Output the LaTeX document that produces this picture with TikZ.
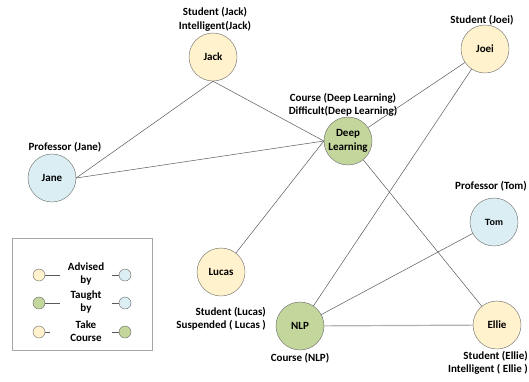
\documentclass[tikz,border=0pt]{standalone}
\usepackage{fontspec}
\setmainfont{Carlito}
\newfontfamily\arialfont{Liberation Sans}
\definecolor{stuyellow}{RGB}{255,242,204}
\definecolor{profblue}{RGB}{219,238,244}
\definecolor{coursegreen}{RGB}{195,214,155}
\definecolor{edgegray}{RGB}{89,89,89}
\begin{document}
\begin{tikzpicture}[x=1pt, y=-1pt,
  every node/.style={font=\fontsize{11}{13.5}\selectfont\bfseries},
  entity/.style={circle, draw=gray!80!black, minimum size=48pt, inner sep=0pt, align=center},
  student/.style={entity, fill=stuyellow},
  professor/.style={entity, fill=profblue},
  course/.style={entity, fill=coursegreen},
  tag/.style={inner sep=0pt, align=center},
  link/.style={draw=edgegray, line width=0.5pt},
  dot/.style={circle, draw=gray!80!black, minimum size=12pt, inner sep=0pt}]
  \useasboundingbox (0,0) rectangle (529,381);
  % entities
  \node[student] (jack) at (213,57) {Jack};
  \node[student] (joei) at (485,49) {Joei};
  \node[course] (deep) at (348,141) {Deep\\Learning};
  \node[professor] (jane) at (52,178) {Jane};
  \node[student] (lucas) at (221,272) {Lucas};
  \node[professor] (tom) at (494,222) {\arialfont\bfseries\small Tom};
  \node[course] (nlp) at (300,326) {NLP};
  \node[student] (ellie) at (497,325) {Ellie};
  % predicates
  \node[tag] (jacktag) at (215,19.5) {Student (Jack)\\Intelligent(Jack)};
  \node[tag] (joeitag) at (482,20) {Student (Joei)};
  \node[tag] (deeptag) at (343,105) {Course (Deep Learning)\\Difficult(Deep Learning)};
  \node[tag] (janetag) at (65,147) {Professor (Jane)};
  \node[tag, align=right, anchor=east] (lucastag) at (266,319) {Student (Lucas)\\Suspended ( Lucas )};
  \node[tag] (tomtag) at (491,186) {Professor (Tom)};
  \node[tag] (nlptag) at (300,358) {Course (NLP)};
  \node[tag, align=right, anchor=east] (ellietag) at (528,363) {Student (Ellie)\\Intelligent ( Ellie )};
  % relations
  \draw[link] (jane.east) -- (jack.south);
  \draw[link] (jack.south) -- (deep.west);
  \draw[link] (jane.east) -- (deep.west);
  \draw[link] (lucas) -- (deep.west);
  \draw[link] (deep) -- (joei);
  \draw[link] (deep) -- (ellie);
  \draw[link] (joei) -- (nlp);
  \draw[link] (nlp) -- (tom);
  \draw[draw=gray!60, line width=1.2pt] (nlp) -- (ellie);
  % legend
  \draw[gray!70, line width=0.6pt] (12,238) rectangle (152,350);
  \foreach \i/\y/\l/\r/\txt/\gap in {1/275/stuyellow/profblue/{Advised\\by}/0pt,
      2/303/coursegreen/profblue/{Taught\\by}/0pt,
      3/332/stuyellow/coursegreen/{Take\\Course}/10pt} {
    \node[dot, fill=\l] (left\i) at (39,\y) {};
    \node[dot, fill=\r] (right\i) at (125,\y) {};
    \node[tag, minimum width=52pt] (key\i) at (86,\y-1) {\txt};
    \draw[link, shorten >=\gap] (left\i) -- (left\i -| key\i.west);
    \draw[link] (right\i -| key\i.east) -- (right\i);
  }
\end{tikzpicture}
\end{document}
